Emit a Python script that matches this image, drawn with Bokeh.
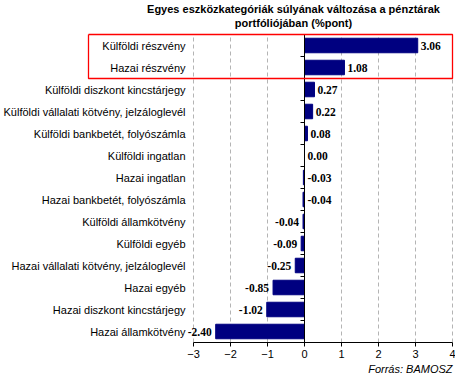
from bokeh.plotting import figure
from bokeh.models import ColumnDataSource, FixedTicker, Title, Range1d
from bokeh.core.properties import value
from bokeh.embed import file_html
from bokeh.resources import INLINE

categories = [
    "Külföldi részvény",
    "Hazai részvény",
    "Külföldi diszkont kincstárjegy",
    "Külföldi vállalati kötvény, jelzáloglevél",
    "Külföldi bankbetét, folyószámla",
    "Külföldi ingatlan",
    "Hazai ingatlan",
    "Hazai bankbetét, folyószámla",
    "Külföldi államkötvény",
    "Külföldi egyéb",
    "Hazai vállalati kötvény, jelzáloglevél",
    "Hazai egyéb",
    "Hazai diszkont kincstárjegy",
    "Hazai államkötvény",
]
values = [3.06, 1.08, 0.27, 0.22, 0.08, 0.00, -0.03, -0.04, -0.04, -0.09, -0.25, -0.85, -1.02, -2.40]
x_ticks = [-3, -2, -1, 0, 1, 2, 3, 4]
title_lines = ["Egyes eszközkategóriák súlyának változása a pénztárak", "portfóliójában (%pont)"]
source_note = "Forrás: BAMOSZ"
n_labels_at_zero_side = 8   # first rows carry their value label right of the zero line
n_highlighted = 2           # rows inside the red frame

SANS = "Liberation Sans"
SERIF = "Liberation Serif"
W, H = 455, 376
BOTTOM = 34
FRAME_H = H - BOTTOM
PX_X = 37.0          # pixels per x unit
AXIS_LEFT_PX = 193   # canvas px of x = -3
ROW_PX = 22.0        # pixels per row

n = len(categories)
x0 = x_ticks[0] - AXIS_LEFT_PX / PX_X
x1 = x0 + W / PX_X
y_top = FRAME_H / ROW_PX

def data_x(px):
    return x0 + px / PX_X

def data_y(px):
    return y_top - px / ROW_PX

p = figure(width=W, height=H, x_range=Range1d(x0, x1), y_range=Range1d(0, y_top),
           output_backend="svg", toolbar_location=None, title=None, y_axis_location=None,
           min_border_left=0, min_border_right=0, min_border_top=0, min_border_bottom=BOTTOM)
p.outline_line_color = None
p.background_fill_color = "white"
p.border_fill_color = "white"
p.grid.visible = False

# x axis (real axis, limited to the tick span)
p.xaxis.bounds = (x_ticks[0], x_ticks[-1])
p.xaxis.ticker = FixedTicker(ticks=x_ticks)
p.xaxis.axis_line_color = "black"
p.xaxis.major_tick_line_color = "black"
p.xaxis.major_tick_out = 4
p.xaxis.major_tick_in = 0
p.xaxis.minor_tick_line_color = None
p.xaxis.major_label_standoff = 3
p.xaxis.major_label_text_font = SANS
p.xaxis.major_label_text_font_size = "11px"
p.xaxis.major_label_text_color = "black"

ys = [n - i - 0.5 for i in range(n)]

# dashed vertical gridlines over the rows
gx = [t for t in x_ticks if t != 0]
p.segment(x0=gx, x1=gx, y0=[0] * len(gx), y1=[n] * len(gx),
          line_color="#b4b4b4", line_dash="4 3", line_width=1)

# bars
src = ColumnDataSource(dict(y=ys, val=values, cat=categories))
p.hbar(y="y", left=0, right="val", height=0.66, fill_color="#000080",
       line_color="#000080", source=src)

# zero line with row ticks
p.segment(x0=[0], x1=[0], y0=[0], y1=[n], line_color="black", line_width=1)
bounds = list(range(1, n))
p.segment(x0=[-4 / PX_X] * len(bounds), x1=[0] * len(bounds), y0=bounds, y1=bounds,
          line_color="black", line_width=1)

# category labels
p.text(x=[x_ticks[0]] * n, y=ys, text=categories, x_offset=-8,
       text_align="right", text_baseline="middle", text_font=value(SANS),
       text_font_size="11px", text_color="black")

# value labels
fmt = ["%.2f" % v for v in values]
k = n_labels_at_zero_side
common = dict(text_baseline="middle", text_font=value(SERIF), text_font_style="bold",
              text_font_size="11.5px", text_color="black")
p.text(x=[max(v, 0) for v in values[:k]], y=ys[:k], text=fmt[:k], x_offset=3,
       text_align="left", **common)
p.text(x=values[k:], y=ys[k:], text=fmt[k:], x_offset=-4, text_align="right", **common)

# red highlight frame (closed outline)
bl = data_x(88)
br = x_ticks[-1]
bt = n
bb = n - n_highlighted
p.multi_line(xs=[[bl, br, br, bl, bl]], ys=[[bt, bt, bb, bb, bt]],
             line_color="#ff0000", line_width=1.3)

# title
title_cx = data_x(293)
for i, t in enumerate(title_lines):
    p.text(x=[title_cx], y=[data_y(8 + 14 * i)], text=[t], text_align="center",
           text_baseline="middle", text_font=value(SANS), text_font_style="bold",
           text_font_size="11px", text_color="black")

# source note below the axis
note = Title(text=source_note, align="right", offset=3, standoff=0,
             text_font=SANS, text_font_style="italic", text_font_size="11px",
             text_color="black")
p.add_layout(note, "below")

open("out.html", "w").write(file_html(p, INLINE))
